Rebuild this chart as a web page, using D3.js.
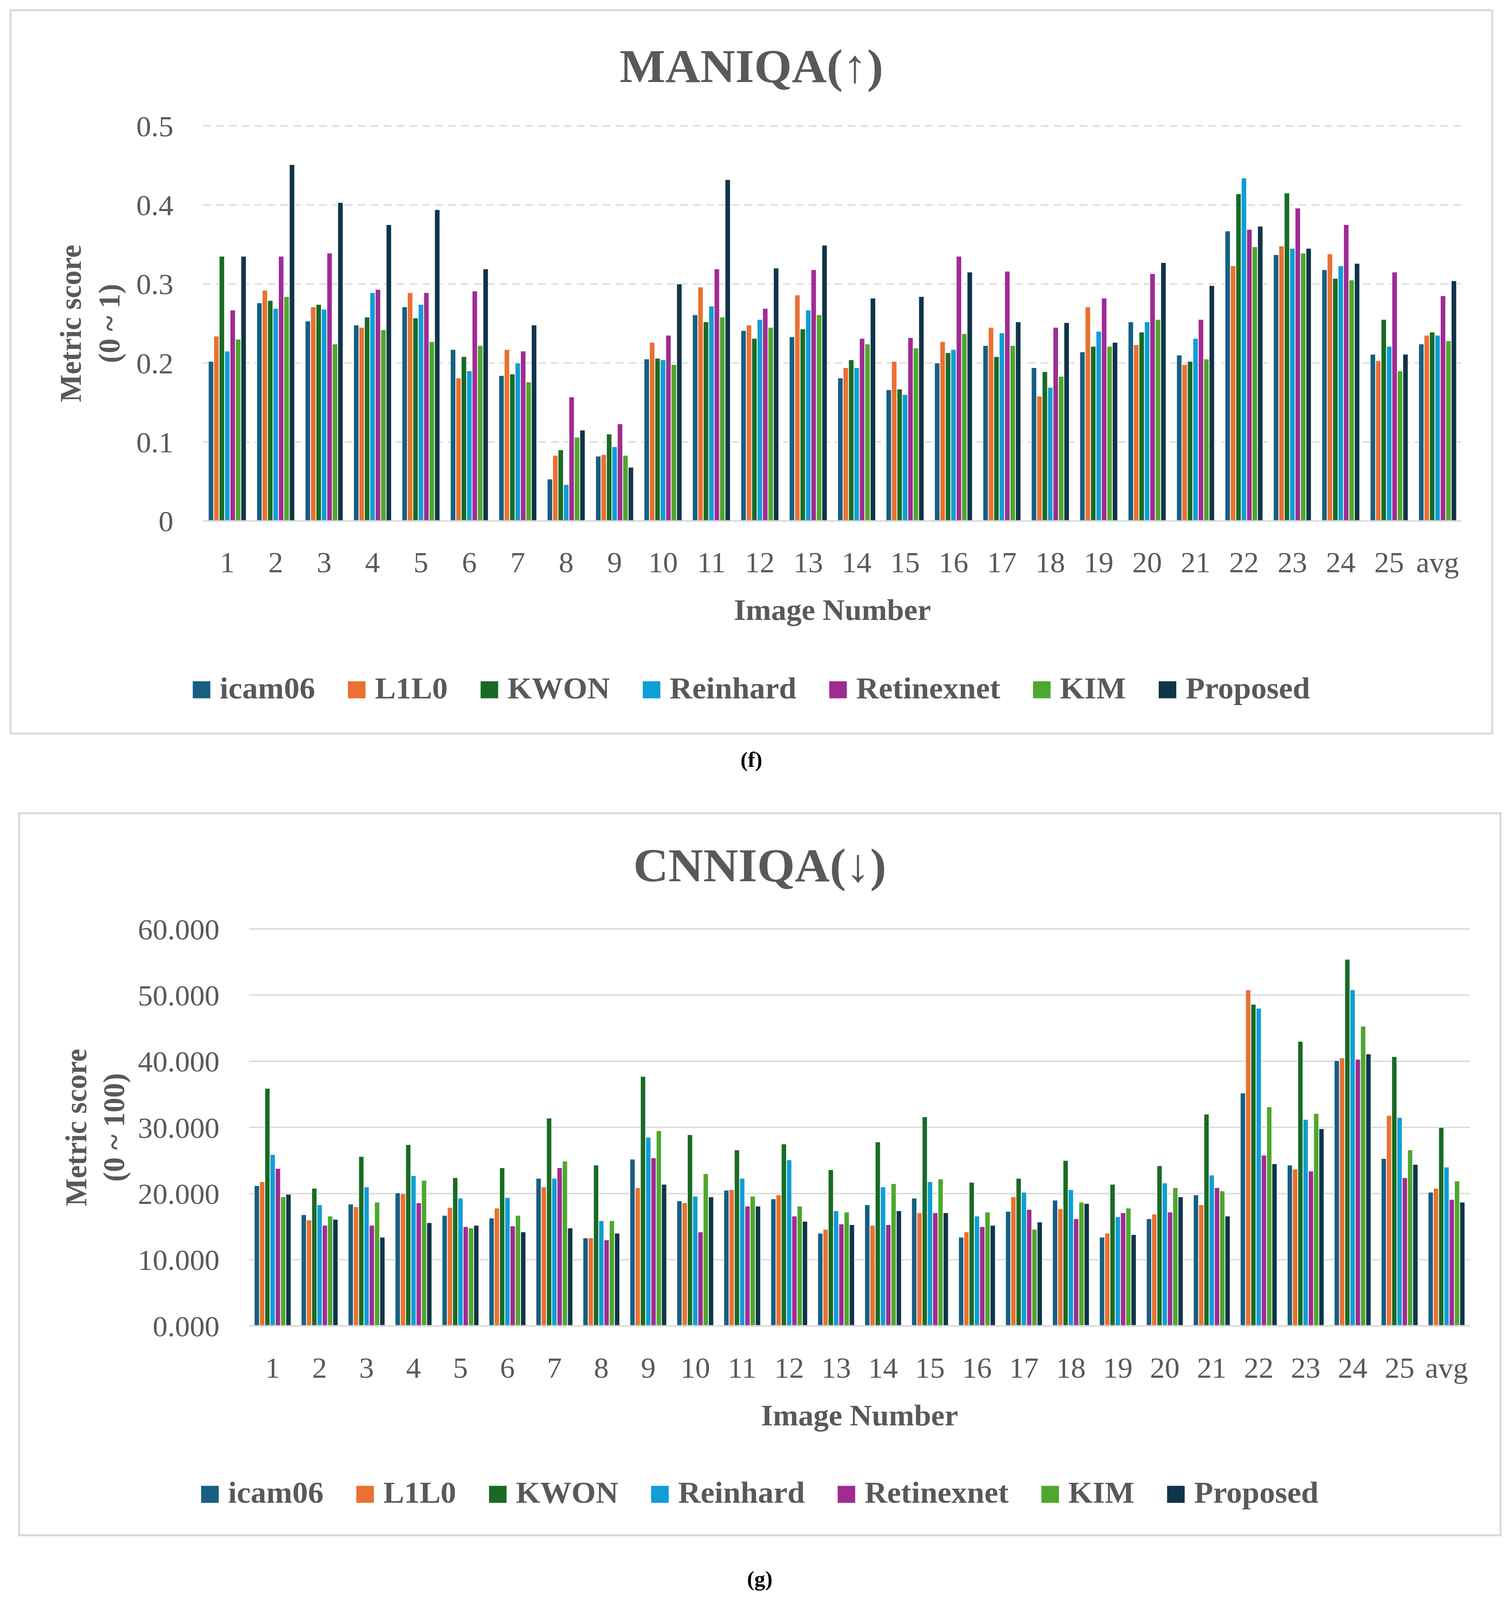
<!DOCTYPE html>
<html>
<head>
<meta charset="utf-8">
<script src="https://cdn.jsdelivr.net/npm/d3@7"></script>
<style>
html, body { margin: 0; padding: 0; background: #fff; overflow: hidden; }
svg { display: block; width: 100vw; height: 100vh; }
text { font-family: 'Palatino Linotype', 'Book Antiqua', Palatino, 'Liberation Serif', serif; fill: #595959; }
</style>
</head>
<body>
<svg id="main_svg" viewBox="0 0 3869 4232" preserveAspectRatio="none"></svg>
<script>
// image numbers on the x axis
var categories = ["1","2","3","4","5","6","7","8","9","10","11","12","13","14","15","16","17","18","19","20","21","22","23","24","25","avg"];
var methods = ["icam06", "L1L0", "KWON", "Reinhard", "Retinexnet", "KIM", "Proposed"];
var methodColors = ["#165f82", "#e97132", "#196b24", "#0f9ed5", "#a02b93", "#4ea72e", "#0e3549"];

// MANIQA (higher is better), 0 ~ 1
var maniqaIcam06     = [0.202,0.276,0.253,0.248,0.271,0.217,0.184,0.053,0.082,0.205,0.261,0.241,0.233,0.181,0.166,0.200,0.222,0.194,0.214,0.252,0.210,0.367,0.337,0.318,0.211,0.224];
var maniqaL1L0       = [0.234,0.292,0.271,0.245,0.289,0.181,0.217,0.083,0.084,0.226,0.296,0.248,0.286,0.194,0.202,0.227,0.245,0.158,0.271,0.223,0.198,0.323,0.348,0.338,0.203,0.235];
var maniqaKwon       = [0.335,0.279,0.274,0.258,0.257,0.208,0.186,0.090,0.110,0.206,0.252,0.231,0.243,0.204,0.167,0.213,0.208,0.189,0.221,0.239,0.202,0.414,0.415,0.307,0.255,0.239];
var maniqaReinhard   = [0.215,0.269,0.268,0.289,0.274,0.190,0.200,0.046,0.094,0.204,0.272,0.255,0.267,0.194,0.160,0.217,0.238,0.169,0.240,0.252,0.231,0.434,0.345,0.323,0.221,0.235];
var maniqaRetinexnet = [0.267,0.335,0.339,0.293,0.289,0.291,0.215,0.157,0.123,0.235,0.319,0.269,0.318,0.231,0.232,0.335,0.316,0.245,0.282,0.313,0.255,0.369,0.396,0.375,0.315,0.285];
var maniqaKim        = [0.230,0.284,0.224,0.242,0.227,0.222,0.176,0.106,0.083,0.198,0.258,0.245,0.261,0.224,0.219,0.237,0.222,0.183,0.221,0.255,0.205,0.347,0.339,0.305,0.190,0.228];
var maniqaProposed   = [0.335,0.451,0.403,0.375,0.394,0.319,0.248,0.115,0.068,0.300,0.432,0.320,0.349,0.282,0.284,0.315,0.252,0.251,0.226,0.327,0.298,0.373,0.345,0.326,0.211,0.304];
var maniqaTicks = [0, 0.1, 0.2, 0.3, 0.4, 0.5];

// CNNIQA (lower is better), 0 ~ 100
var cnniqaIcam06     = [21.2,16.8,18.4,20.1,16.7,16.3,22.3,13.3,25.2,18.9,20.5,19.2,14.0,18.3,19.3,13.4,17.3,19.0,13.4,16.2,19.8,35.2,24.3,40.1,25.3,20.2];
var cnniqaL1L0       = [21.8,16.0,18.0,20.0,17.9,17.8,21.0,13.3,20.9,18.6,20.6,19.8,14.6,15.2,17.1,14.2,19.5,17.7,14.0,16.9,18.3,50.8,23.7,40.5,31.8,20.8];
var cnniqaKwon       = [35.9,20.8,25.6,27.4,22.4,23.9,31.4,24.3,37.7,28.9,26.6,27.5,23.6,27.8,31.6,21.7,22.3,25.0,21.4,24.2,32.0,48.6,43.0,55.4,40.7,30.0];
var cnniqaReinhard   = [25.9,18.3,21.0,22.7,19.3,19.4,22.3,15.9,28.5,19.6,22.3,25.1,17.4,21.0,21.8,16.6,20.2,20.6,16.5,21.6,22.8,48.0,31.2,50.8,31.5,24.0];
var cnniqaRetinexnet = [23.8,15.2,15.2,18.6,15.0,15.1,23.9,13.0,25.4,14.2,18.1,16.6,15.4,15.3,17.1,15.0,17.6,16.2,17.1,17.2,20.9,25.8,23.4,40.3,22.4,19.1];
var cnniqaKim        = [19.5,16.6,18.7,22.0,14.8,16.7,24.9,15.9,29.5,23.0,19.6,18.1,17.2,21.5,22.2,17.2,14.6,18.7,17.8,20.9,20.4,33.1,32.1,45.3,26.6,21.9];
var cnniqaProposed   = [19.9,16.1,13.4,15.6,15.2,14.2,14.8,14.0,21.4,19.5,18.1,15.8,15.3,17.4,17.1,15.2,15.7,18.5,13.8,19.5,16.6,24.5,29.8,41.1,24.4,18.7];
var cnniqaTicks = [0, 10, 20, 30, 40, 50, 60];

var svg = d3.select("#main_svg");
svg.append("rect").attr("width", 3869).attr("height", 4232).attr("fill", "#fff");

function draw_chart(cfg) {
  var rows = categories.map(function(c, i) {
    return { cat: c, vals: cfg.series.map(function(s, j) { return { m: methods[j], v: s[i] }; }) };
  });

  var g = svg.append("g");

  // outer frame
  g.append("rect")
    .attr("x", cfg.frame[0]).attr("y", cfg.frame[1])
    .attr("width", cfg.frame[2] - cfg.frame[0]).attr("height", cfg.frame[3] - cfg.frame[1])
    .attr("fill", "none").attr("stroke", "#d9d9d9").attr("stroke-width", 5);

  var x0 = d3.scaleBand().domain(categories).range([cfg.left, cfg.right])
    .paddingInner(0.21).paddingOuter(0.105);
  var x1 = d3.scaleBand().domain(methods).range([0, x0.bandwidth()]).padding(0.04);
  var y = d3.scaleLinear().domain(cfg.domain).range([cfg.bottom, cfg.top]);
  var color = d3.scaleOrdinal().domain(methods).range(methodColors);

  // gridlines
  g.selectAll(".grid").data(cfg.ticks.filter(function(t) { return t > 0; }))
    .enter().append("line")
    .attr("x1", cfg.left).attr("x2", cfg.right)
    .attr("y1", function(d) { return y(d); }).attr("y2", function(d) { return y(d); })
    .attr("stroke", "#d9d9d9").attr("stroke-width", 3.5)
    .attr("stroke-dasharray", cfg.dashed ? "20,13" : null);

  // y tick labels
  g.selectAll(".ytick").data(cfg.ticks).enter().append("text")
    .attr("x", cfg.tickRight).attr("y", function(d) { return y(d); })
    .attr("dy", "0.36em").attr("text-anchor", "end")
    .style("font-size", "76px")
    .text(function(d) { return cfg.fmt(d); });

  // bars
  var groups = g.selectAll(".grp").data(rows).enter().append("g")
    .attr("transform", function(d) { return "translate(" + x0(d.cat) + ",0)"; });
  groups.selectAll("rect").data(function(d) { return d.vals; }).enter().append("rect")
    .attr("x", function(d) { return x1(d.m); })
    .attr("width", x1.bandwidth())
    .attr("y", function(d) { return y(d.v); })
    .attr("height", function(d) { return y(0) - y(d.v); })
    .attr("fill", function(d) { return color(d.m); })
    .attr("stroke", "#fff").attr("stroke-width", 1.5);

  // baseline
  g.append("line")
    .attr("x1", cfg.left).attr("x2", cfg.right)
    .attr("y1", y(0)).attr("y2", y(0))
    .attr("stroke", "#d9d9d9").attr("stroke-width", 4);

  // x tick labels
  g.selectAll(".xtick").data(categories).enter().append("text")
    .attr("x", function(d) { return x0(d) + x0.bandwidth() / 2; })
    .attr("y", cfg.xLabelY).attr("text-anchor", "middle")
    .style("font-size", "76px")
    .text(function(d) { return d; });

  var midPlot = (cfg.left + cfg.right) / 2;
  var midFrame = (cfg.frame[0] + cfg.frame[2]) / 2;

  g.append("text").attr("x", midPlot).attr("y", cfg.xTitleY)
    .attr("text-anchor", "middle").style("font-size", "78px").style("font-weight", "bold")
    .text("Image Number");

  // rotated y title, two lines
  var midY = (cfg.top + cfg.bottom) / 2;
  cfg.yTitle.forEach(function(t, i) {
    g.append("text")
      .attr("transform", "translate(" + cfg.yTitleX[i] + "," + midY + ") rotate(-90)")
      .attr("text-anchor", "middle").attr("dy", "0.35em")
      .style("font-size", "78px").style("font-weight", "bold")
      .text(t);
  });

  // title
  g.append("text").attr("x", midFrame).attr("y", cfg.titleY)
    .attr("text-anchor", "middle").style("font-size", "124px").style("font-weight", "bold")
    .text(cfg.title);

  // legend
  var legendRectSize = 45;
  var legendSpacing = 24;
  var itemGap = 84;
  var legend = g.append("g");
  var items = legend.selectAll(".legend").data(methods).enter().append("g");
  items.append("rect")
    .attr("width", legendRectSize).attr("height", legendRectSize)
    .attr("y", -legendRectSize)
    .attr("fill", function(d) { return color(d); });
  items.append("text")
    .attr("x", legendRectSize + legendSpacing).attr("y", 0)
    .style("font-size", "80px").style("font-weight", "bold")
    .text(function(d) { return d; });
  var offs = 0;
  items.each(function() {
    var w = d3.select(this).select("text").node().getComputedTextLength();
    d3.select(this).attr("transform", "translate(" + offs + ",0)");
    offs += legendRectSize + legendSpacing + w + itemGap;
  });
  var total = offs - itemGap;
  legend.attr("transform", "translate(" + (midFrame - total / 2) + "," + cfg.legendY + ")");

  // caption under the frame
  svg.append("text").attr("x", midFrame).attr("y", cfg.captionY)
    .attr("text-anchor", "middle").style("font-size", "56px").style("font-weight", "bold")
    .style("fill", "#000")
    .text(cfg.caption);
}

draw_chart({
  series: [maniqaIcam06, maniqaL1L0, maniqaKwon, maniqaReinhard, maniqaRetinexnet, maniqaKim, maniqaProposed],
  frame: [27, 27, 3821, 1940],
  left: 520, right: 3743, top: 333, bottom: 1378,
  domain: [0, 0.5], ticks: maniqaTicks, fmt: d3.format("~g"), dashed: true,
  tickRight: 444, xLabelY: 1514, xTitleY: 1640, legendY: 1847,
  title: "MANIQA(↑)", titleY: 217,
  yTitle: ["Metric score", "(0 ~ 1)"], yTitleX: [180, 279],
  caption: "(f)", captionY: 2028
});

draw_chart({
  series: [cnniqaIcam06, cnniqaL1L0, cnniqaKwon, cnniqaReinhard, cnniqaRetinexnet, cnniqaKim, cnniqaProposed],
  frame: [49, 2151, 3842, 4061],
  left: 638, right: 3764, top: 2457, bottom: 3507,
  domain: [0, 60], ticks: cnniqaTicks, fmt: d3.format(".3f"), dashed: false,
  tickRight: 562, xLabelY: 3644, xTitleY: 3770, legendY: 3975,
  title: "CNNIQA(↓)", titleY: 2331,
  yTitle: ["Metric score", "(0 ~ 100)"], yTitleX: [194, 291],
  caption: "(g)", captionY: 4195
});
</script>
</body>
</html>
